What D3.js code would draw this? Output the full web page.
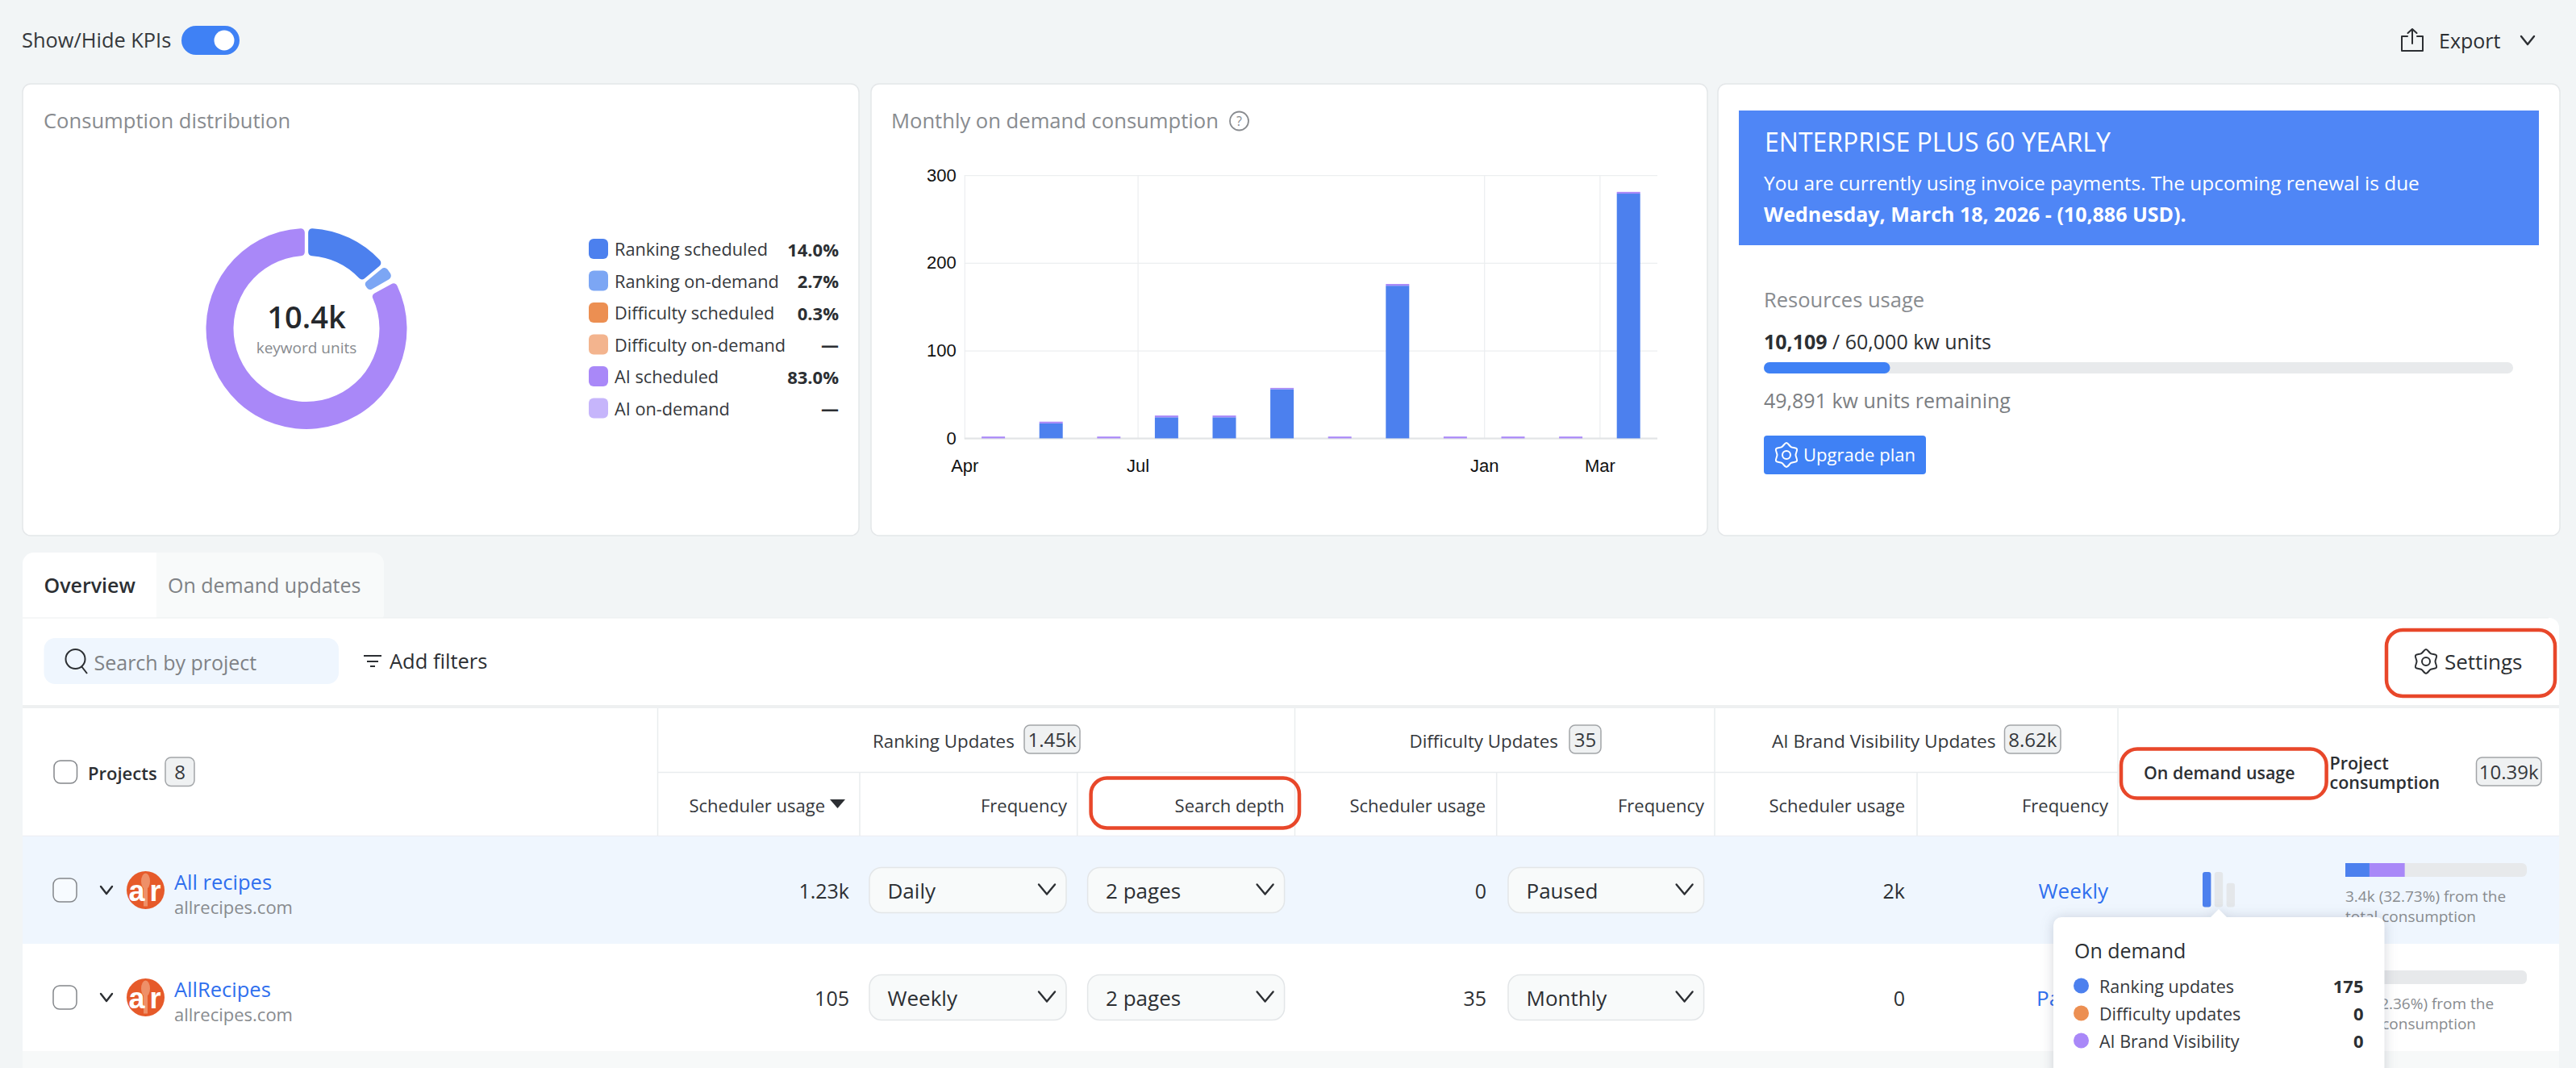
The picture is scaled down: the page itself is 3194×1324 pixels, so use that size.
<!DOCTYPE html>
<html>
<head>
<meta charset="utf-8">
<script src="https://cdn.jsdelivr.net/npm/d3@7"></script>
<style>
html, body { margin: 0; padding: 0; background: #f2f5f6; }
svg { display: block; font-family: "Open Sans", sans-serif; }
</style>
</head>
<body>
<div id="page"></div>
<script>
// donut
var distLabels = ["Ranking scheduled", "Ranking on-demand", "Difficulty scheduled", "Difficulty on-demand", "AI scheduled", "AI on-demand"];
var distValues = [14.0, 2.7, 0.3, 0, 83.0, 0];
var distText = ["14.0%", "2.7%", "0.3%", "—", "83.0%", "—"];
var distColors = ["#4c80ee", "#7ca6f4", "#ec8f52", "#f3b48e", "#a988f8", "#c6b5fb"];

// monthly bars
var months = ["Apr", "May", "Jun", "Jul", "Aug", "Sep", "Oct", "Nov", "Dec", "Jan", "Feb", "Mar"];
var rankingMonthly = [0, 17, 0, 24, 24, 56, 0, 174, 0, 0, 0, 279];
var aiMonthly = [2, 2, 2, 2, 2, 1.5, 2, 2, 2, 2, 2, 2];
var monthTicks = ["Apr", "Jul", "Jan", "Mar"];
var yTicks = [0, 100, 200, 300];

// plan
var unitsUsed = 10109;
var unitsTotal = 60000;

// table
var projectNames = ["All recipes", "AllRecipes"];
var projectDomains = ["allrecipes.com", "allrecipes.com"];
var rankingUsage = ["1.23k", "105"];
var rankingFreq = ["Daily", "Weekly"];
var searchDepth = ["2 pages", "2 pages"];
var difficultyUsage = ["0", "35"];
var difficultyFreq = ["Paused", "Monthly"];
var aiUsage = ["2k", "0"];
var aiFreq = ["Weekly", "Paused"];
var rankingShare = [13.3, 1.0];
var aiShare = [19.43, 1.36];
var shareText = ["3.4k (32.73%) from the", "245 (2.36%) from the"];
var miniLabels = ["Ranking updates", "Difficulty updates", "AI Brand Visibility"];
var miniValues = [175, 0, 0];
var miniTracks = [175, 175, 120];

var W = 3194, H = 1324;
var INK = "#2c2f33", MUTED = "#888b8f", LINK = "#2f6fee", LINE = "#e9ecee", RED = "#e8472a";

var svg = d3.select("#page").append("svg").attr("width", W).attr("height", H);

function txt(x, y, s, o) {
    o = o || {};
    return svg.append("text")
        .attr("x", x).attr("y", y)
        .attr("dominant-baseline", "central")
        .attr("text-anchor", o.a || "start")
        .attr("font-size", o.s || 24)
        .attr("font-weight", o.w || 400)
        .attr("fill", o.c || INK)
        .text(s);
}

function box(x, y, w, h, o) {
    o = o || {};
    return svg.append("rect")
        .attr("x", x).attr("y", y).attr("width", w).attr("height", h)
        .attr("rx", o.r || 0)
        .attr("fill", o.f || "none")
        .attr("stroke", o.st || "none")
        .attr("stroke-width", o.sw || 1);
}

function rule(x1, y1, x2, y2, c, sw) {
    svg.append("line").attr("x1", x1).attr("y1", y1).attr("x2", x2).attr("y2", y2)
        .attr("stroke", c || LINE).attr("stroke-width", sw || 1.5);
}

function chevron(cx, cy, w, h, c) {
    svg.append("path")
        .attr("d", d3.line()([[cx - w, cy - h], [cx, cy + h], [cx + w, cy - h]]))
        .attr("fill", "none").attr("stroke", c || INK).attr("stroke-width", 2.4)
        .attr("stroke-linecap", "round").attr("stroke-linejoin", "round");
}

function gear(cx, cy, c) {
    var pts = d3.range(12).map(function(i) {
        return [i * Math.PI / 6, i % 2 ? 11.5 : 15];
    });
    var g = svg.append("g").attr("transform", "translate(" + cx + "," + cy + ")")
        .attr("fill", "none").attr("stroke", c).attr("stroke-width", 2);
    g.append("path").attr("d", d3.lineRadial().curve(d3.curveCatmullRomClosed)(pts));
    g.append("circle").attr("r", 5);
}

function badge(x, y, w, h, s) {
    box(x, y, w, h, {r: 7, f: "#eff1f2", st: "#a2a5a8", sw: 1.5});
    txt(x + w / 2, y + h / 2, s, {a: "middle", s: 24, c: "#35383c"});
}

function checkbox(x, y, w, h) {
    box(x, y, w, h, {r: 8, f: "#fff", st: "#84878b", sw: 1.5}).attr("fill-opacity", 0.5);
}

// top strip
txt(27, 49, "Show/Hide KPIs", {s: 25.4, c: "#35383c"});
box(225, 32, 72, 36, {r: 18, f: "#3f81f5"});
svg.append("circle").attr("cx", 278).attr("cy", 50).attr("r", 12.5).attr("fill", "#fff");

var ex = svg.append("g").attr("fill", "none").attr("stroke", INK).attr("stroke-width", 2)
    .attr("stroke-linecap", "round").attr("stroke-linejoin", "round");
ex.append("path").attr("d", "M2985,45H2978V63H3004V45H2997");
ex.append("path").attr("d", "M2991,54V36M2985.5,41L2991,36L2996.5,41");
txt(3024, 50, "Export", {s: 25});
chevron(3134, 50, 8, 5);

// cards
[[28, 1037], [1080, 1037], [2130, 1044]].forEach(function(c) {
    box(c[0], 104, c[1], 560, {r: 10, f: "#fff", st: "#e4e7e9", sw: 1.5});
});

// consumption distribution
txt(54, 149.5, "Consumption distribution", {s: 25.6, c: MUTED});

var pie = d3.pie().sort(null).value(function(d) { return d; });
var arc = d3.arc().innerRadius(90.5).outerRadius(124.5).padAngle(0.028).cornerRadius(5);
var donut = svg.append("g").attr("transform", "translate(380,407.5)");
donut.selectAll("path").data(pie(distValues)).enter().append("path")
    .attr("d", function(d) { return d.value > 0 ? arc(d) : null; })
    .attr("fill", function(d, i) { return distColors[i]; });

txt(380, 392, "10.4k", {a: "middle", s: 38, w: 600, c: "#25282c"});
txt(380, 431, "keyword units", {a: "middle", s: 19, c: MUTED});

var legendY = d3.scalePoint().domain(distLabels).range([308.5, 506]);
distLabels.forEach(function(d, i) {
    var y = legendY(d);
    box(730, y - 12.5, 24, 25, {r: 6, f: distColors[i]});
    txt(762, y, d, {s: 21.7, c: "#35383c"});
    txt(1040, y, distText[i], {s: 22, w: 700, a: "end"});
});

// monthly chart
txt(1105, 149.5, "Monthly on demand consumption", {s: 25.6, c: MUTED});
svg.append("circle").attr("cx", 1536.5).attr("cy", 150).attr("r", 11.5)
    .attr("fill", "none").attr("stroke", MUTED).attr("stroke-width", 1.8);
txt(1536.5, 150, "?", {a: "middle", s: 16, c: MUTED});

var plot = {left: 1195.8, right: 2055, top: 217.2, bottom: 543.4};
var x = d3.scaleBand().domain(months).range([plot.left, plot.right]).paddingInner(0.595).paddingOuter(0.2975);
var xEdge = d3.scalePoint().domain(months).range([plot.left, plot.right - x.step()]);
var y = d3.scaleLinear().domain([0, 300]).range([plot.bottom, plot.top]);

var gy = svg.append("g").attr("transform", "translate(" + plot.left + ",0)")
    .call(d3.axisLeft(y).tickValues(yTicks).tickSize(-(plot.right - plot.left)).tickPadding(10));
gy.select(".domain").remove();
gy.selectAll("line").attr("stroke", "#eceef0").attr("stroke-width", 1.2);
gy.selectAll("text").attr("font-family", "'Liberation Sans', sans-serif").attr("font-size", 22).attr("fill", "#111");

var gx = svg.append("g").attr("transform", "translate(0," + plot.bottom + ")")
    .call(d3.axisBottom(xEdge).tickValues(monthTicks).tickSize(-(plot.bottom - plot.top)));
gx.select(".domain").remove();
gx.selectAll("line").attr("stroke", "#eceef0").attr("stroke-width", 1.2);
gx.selectAll("text").attr("y", 35).attr("dy", "0.32em")
    .attr("font-family", "'Liberation Sans', sans-serif").attr("font-size", 22).attr("fill", "#111");
rule(plot.left, plot.bottom, plot.right, plot.bottom, "#e2e4e6", 2);

var stack = d3.stack().keys(["ranking", "ai"])(months.map(function(m, i) {
    return {ranking: rankingMonthly[i], ai: aiMonthly[i]};
}));
svg.append("g").selectAll("g").data(stack).enter().append("g")
    .attr("fill", function(d) { return d.key === "ranking" ? distColors[0] : distColors[4]; })
    .selectAll("rect").data(function(d) { return d; }).enter().append("rect")
    .attr("x", function(d, i) { return x(months[i]); })
    .attr("width", x.bandwidth())
    .attr("y", function(d) { return y(d[1]); })
    .attr("height", function(d) { return y(d[0]) - y(d[1]); });

// plan card
box(2156, 137, 992, 167, {f: "#4f86f6"});
txt(2188, 175, "ENTERPRISE PLUS 60 YEARLY", {s: 32, w: 500, c: "#fff"});
txt(2187, 226, "You are currently using invoice payments. The upcoming renewal is due", {s: 24.4, c: "#fff"});
txt(2187, 265, "Wednesday, March 18, 2026 - (10,886 USD).", {s: 25, w: 700, c: "#fff"});
txt(2187, 371, "Resources usage", {s: 25.5, c: MUTED});
var boldUsed = txt(2187, 423, d3.format(",")(unitsUsed), {s: 25, w: 700});
boldUsed.append("tspan").attr("font-weight", 400).text(" / " + d3.format(",")(unitsTotal) + " kw units");
var usage = d3.scaleLinear().domain([0, unitsTotal]).range([2187, 3116]);
box(usage(0), 449, usage(unitsTotal) - usage(0), 14, {r: 7, f: "#e8eaec"});
box(usage(0), 449, usage(unitsUsed) - usage(0), 14, {r: 7, f: "#3f81f5"});
txt(2187, 495.5, d3.format(",")(unitsTotal - unitsUsed) + " kw units remaining", {s: 25, c: "#7b7e82"});
box(2187, 540, 201, 48, {r: 4, f: "#3f81f5"});
gear(2215, 564, "#fff");
txt(2236, 563, "Upgrade plan", {s: 22, c: "#fff"});

// tabs + table shell
box(28, 685, 166, 110, {r: 14, f: "#fff"});
box(180, 685, 296, 90, {r: 14, f: "#f8fafa"});
box(180, 685, 14, 90, {f: "#fff"});
txt(54.5, 725, "Overview", {s: 25, w: 600});
txt(208, 725, "On demand updates", {s: 25, c: "#7f8286"});
box(28, 766, 3145, 600, {r: 12, f: "#fff"});
rule(28, 766, 3160, 766, "#eceff0", 1);

box(54.5, 791, 365.5, 57, {r: 14, f: "#eff6fe"});
svg.append("circle").attr("cx", 93.5).attr("cy", 817).attr("r", 12)
    .attr("fill", "none").attr("stroke", INK).attr("stroke-width", 2);
rule(101, 826, 108, 835, INK, 2);
txt(116.5, 820.5, "Search by project", {s: 25, c: "#7f8286"});
rule(451, 813, 473, 813, INK, 2);
rule(455, 820, 469, 820, INK, 2);
rule(459, 826, 465, 826, INK, 2);
txt(483, 819, "Add filters", {s: 25.5});

gear(3008, 820, INK);
txt(3031, 820, "Settings", {s: 26});

box(28, 874, 3145, 4, {f: "#eef0f1"});

// header
var MID = 957.4, HBOT = 1036.6;
rule(815.5, 878, 815.5, HBOT);
rule(1605.5, 878, 1605.5, HBOT);
rule(2126, 878, 2126, HBOT);
rule(2626, 878, 2626, HBOT);
rule(815.5, MID, 2626, MID);
[1066, 1335.7, 1855.7, 2377].forEach(function(vx) { rule(vx, MID, vx, HBOT); });
rule(28, HBOT, 3173, HBOT);

checkbox(67, 943, 28.5, 28);
txt(109, 957.5, "Projects", {s: 22, w: 600});
badge(205, 939, 36, 35.5, "8");

txt(1082, 918.5, "Ranking Updates", {s: 22.3, w: 500, c: "#35383c"});
badge(1270, 899, 69, 35, "1.45k");
txt(1747.5, 918.5, "Difficulty Updates", {s: 22.3, w: 500, c: "#35383c"});
badge(1946, 899, 39, 35, "35");
txt(2197, 918.5, "AI Brand Visibility Updates", {s: 22.7, w: 500, c: "#35383c"});
badge(2485.5, 899, 69.5, 35, "8.62k");

[[1023, "Scheduler usage"], [1323, "Frequency"], [1592.6, "Search depth"], [1842, "Scheduler usage"], [2113, "Frequency"], [2362, "Scheduler usage"], [2614, "Frequency"]].forEach(function(h) {
    txt(h[0], 998, h[1], {s: 22, w: 500, a: "end", c: "#35383c"});
});
svg.append("path").attr("d", d3.line()([[1029, 991], [1048, 991], [1038.5, 1002]])).attr("fill", INK);

txt(2658, 957.5, "On demand usage", {s: 21.4, w: 600});
txt(2888.5, 945, "Project", {s: 21.5, w: 600});
txt(2888.5, 969.5, "consumption", {s: 21.5, w: 600});
badge(3070.5, 939, 80.5, 35, "10.39k");

// rows
box(28, HBOT, 3145, 133.4, {f: "#eff6fe"});
box(28, 1303, 3145, 21, {f: "#f7f9f9"});

var rowY = [1103.5, 1236.5];
var share = d3.scaleLinear().domain([0, 100]).range([2908, 3133]);

function select(x0, x1, cy, s) {
    box(x0, cy - 28, x1 - x0, 56, {r: 15, f: "#f8fafa", st: "#e3e6e8", sw: 1.5});
    txt(x0 + 22.5, cy, s, {s: 26});
    chevron(x1 - 24, cy - 1, 10, 6);
}

function logo(cy) {
    svg.append("circle").attr("cx", 180.5).attr("cy", cy).attr("r", 23.5).attr("fill", "#e65a2a");
    svg.append("ellipse").attr("cx", 180.5).attr("cy", cy - 11).attr("rx", 5.5).attr("ry", 10).attr("fill", "#ee9068");
    rule(180.5, cy - 6, 180.5, cy + 20, "#ee9068", 5);
    txt(169.5, cy + 1, "a", {a: "middle", s: 36, w: 700, c: "#fff"}).attr("font-family", "'Liberation Sans', sans-serif");
    txt(192.5, cy + 1, "r", {a: "middle", s: 36, w: 700, c: "#fff"}).attr("font-family", "'Liberation Sans', sans-serif");
}

projectNames.forEach(function(name, i) {
    var cy = rowY[i];
    checkbox(66, cy - 14.5, 29, 29);
    chevron(132, cy, 7, 4.5);
    logo(cy);

    txt(216, cy - 10.5, name, {s: 25.5, c: LINK});
    txt(216, cy + 20.5, projectDomains[i], {s: 22, c: MUTED});

    txt(1053, cy + 0.5, rankingUsage[i], {s: 25, a: "end"});
    select(1078, 1322, cy, rankingFreq[i]);
    select(1348.6, 1592.6, cy, searchDepth[i]);
    txt(1843, cy + 0.5, difficultyUsage[i], {s: 25, a: "end"});
    select(1870, 2112.6, cy, difficultyFreq[i]);
    txt(2362, cy + 0.5, aiUsage[i], {s: 25, a: "end"});
    txt(2614, cy + 0.5, aiFreq[i], {s: 26, a: "end", c: LINK});

    var barY = i === 0 ? 1070 : 1203;
    box(share(0), barY, share(100) - share(0), 17, {r: 6, f: "#e7e9eb"});
    box(share(rankingShare[i]), barY, share(aiShare[i]) - share(0), 17, {f: distColors[4]});
    box(share(0), barY, share(rankingShare[i]) - share(0), 17, {f: distColors[0]});
    txt(share(0), barY + 41, shareText[i], {s: 19, c: MUTED});
    txt(share(0), barY + 66, "total consumption", {s: 19, c: MUTED});
});

// mini bars in row one
var miniX = d3.scaleBand().domain(miniLabels).range([2731, 2771]).paddingInner(0.3);
var miniY = d3.scaleLinear().domain([0, 175]).range([1124.6, 1081]);
svg.append("g").selectAll("rect").data(miniTracks).enter().append("rect")
    .attr("x", function(d, i) { return miniX(miniLabels[i]); })
    .attr("width", miniX.bandwidth())
    .attr("y", function(d) { return miniY(d); })
    .attr("height", function(d) { return miniY(0) - miniY(d); })
    .attr("rx", 3)
    .attr("fill", "#e4e7ea");
svg.append("g").selectAll("rect").data(miniValues.filter(function(d) { return d > 0; })).enter().append("rect")
    .attr("x", miniX(miniLabels[0]))
    .attr("width", miniX.bandwidth())
    .attr("y", function(d) { return miniY(d); })
    .attr("height", function(d) { return miniY(0) - miniY(d); })
    .attr("rx", 3)
    .attr("fill", distColors[0]);

// red call-outs
[[1352.6, 964.5, 258.4, 62], [2630, 928.6, 254.6, 61], [2959, 781, 209, 82]].forEach(function(b) {
    box(b[0], b[1], b[2], b[3], {r: 20, st: RED, sw: 4.5});
});

// tooltip goes over everything
var tip = svg.append("g").style("filter", "drop-shadow(0 1px 8px rgba(60,70,90,0.22))");
tip.append("path")
    .attr("d", "M2556,1137H2741L2751,1127L2761,1137H2946A10,10 0 0 1 2956.5,1147V1340H2546V1147A10,10 0 0 1 2556,1137Z")
    .attr("fill", "#fff");
txt(2572, 1177.5, "On demand", {s: 25});
var tipDots = [distColors[0], distColors[2], distColors[4]];
var tipY = d3.scalePoint().domain(miniLabels).range([1222, 1290]);
miniLabels.forEach(function(d, i) {
    var cy = tipY(d);
    svg.append("circle").attr("cx", 2580.5).attr("cy", cy).attr("r", 9.5).attr("fill", tipDots[i]);
    txt(2603, cy, d, {s: 21.5, c: "#35383c"});
    txt(2930.5, cy, miniValues[i], {s: 22, w: 700, a: "end"});
});
</script>
</body>
</html>
